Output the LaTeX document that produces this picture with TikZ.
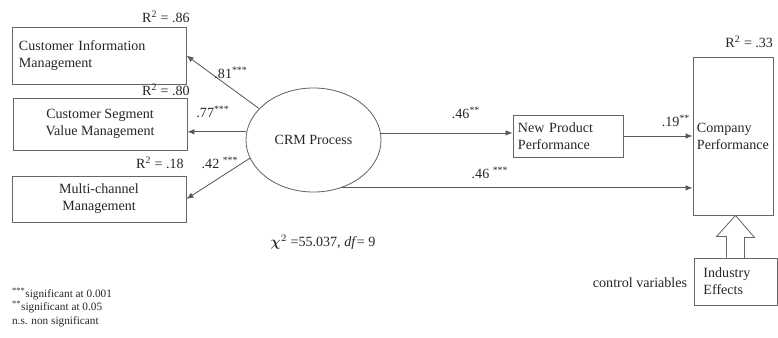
\documentclass[tikz,border=0pt]{standalone}
\usepackage{fontspec}
\setmainfont{Liberation Serif}
\usepackage{amsmath}
\usetikzlibrary{arrows.meta,positioning,shapes.geometric}

\begin{document}
\begin{tikzpicture}[x=0.025cm,y=0.025cm,>={Latex[length=5pt,width=4pt]},
  every node/.style={text=black!85,font=\fontsize{10}{12}\selectfont},
  box/.style={draw=black!60,line width=0.6pt,inner sep=3pt},
  link/.style={->,draw=black!65,line width=0.6pt}]
\useasboundingbox (0,0) rectangle (778,-337);
\node[box,minimum width=4.35cm,minimum height=1.425cm,text width=4.0cm,align=left] (cim) at (99,-55.5) {Customer Information\\Management};
\node[box,minimum width=4.35cm,minimum height=1.3cm,align=center] (csvm) at (100,-124) {Customer Segment\\Value Management};
\node[box,minimum width=4.35cm,minimum height=1.15cm,align=center] (mcm) at (99,-199) {Multi-channel\\Management};
\node[ellipse,draw=black!60,line width=0.6pt,minimum width=3.375cm,minimum height=2.6cm,inner sep=0pt] (crm) at (313.5,-140) {CRM Process};
\node[box,minimum width=2.75cm,minimum height=1.05cm,text width=2.5cm,align=left] (npp) at (568,-136) {New Product\\Performance};
\node[box,minimum width=2.0cm,minimum height=3.95cm,text width=1.8cm,inner sep=2pt,align=left] (comp) at (733,-136) {Company\\Performance};
\node[box,minimum width=2.075cm,minimum height=1.175cm,text width=1.6cm,align=left] (ind) at (735.5,-281.5) {Industry\\Effects};
% paths from the process
\draw[link] (crm.150) -- (cim.east);
\draw[link] (crm.173) -- (crm.173 -| csvm.east);
\draw[link] (crm.196) -- (mcm.east);
\draw[link] (crm.6) -- (crm.6 -| npp.west);
\draw[link] (npp.east) -- (npp.east -| comp.west);
\draw[link] (crm.-60) -- (crm.-60 -| comp.west);
% control variables
\draw[draw=black!60,line width=0.6pt] (ind.north) ++(-9,0) -- ++(0,21) -- ++(-10,0) -- (ind.north |- comp.south) -- ++(19,-22) -- ++(-10,0) -- ++(0,-21);
% coefficients
\node (r2cim) at (166,-17) {R\textsuperscript{2} = .86};
\node (r2csvm) at (166,-90) {R\textsuperscript{2} = .80};
\node (r2mcm) at (160,-163) {R\textsuperscript{2} = .18};
\node[anchor=east] (r2comp) at (778,-42) {R\textsuperscript{2} = .33};
\node (pcim) at (231,-73) {.81\textsuperscript{***}};
\node (pcsvm) at (213,-112) {.77\textsuperscript{***}};
\node (pmcm) at (220,-163) {.42 \textsuperscript{***}};
\node (pnpp) at (466,-113) {.46\textsuperscript{**}};
\node (pcomp) at (490,-173) {.46 \textsuperscript{***}};
\node (pnc) at (676,-121) {.19\textsuperscript{**}};
\node (fit) at (323,-242) {$\boldsymbol{\chi}^2$ =55.037, \textit{df}= 9};
\node (ctrl) at (640,-283) {control variables};
\node[anchor=north west,align=left,font=\footnotesize,inner sep=2pt] (legend) at (9,-285) {\textsuperscript{***}significant at 0.001\\\textsuperscript{**}significant at 0.05\\n.s. non significant};
\end{tikzpicture}
\end{document}
